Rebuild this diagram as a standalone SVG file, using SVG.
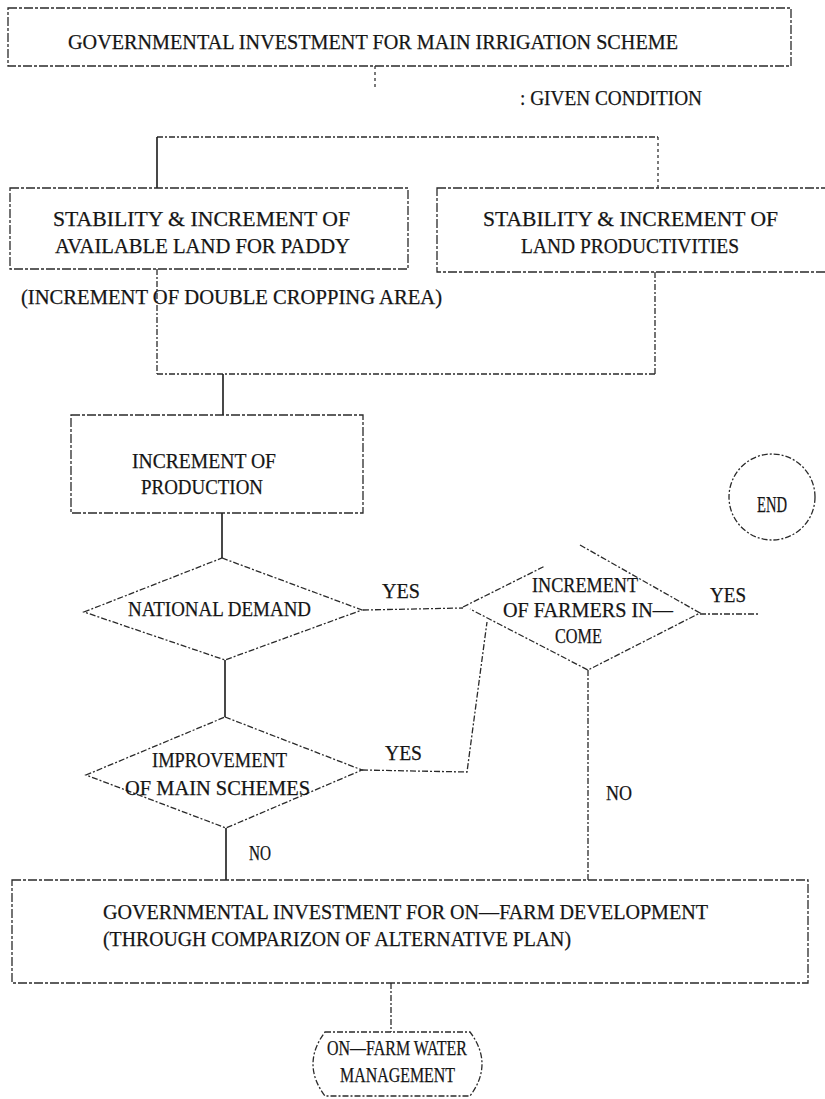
<svg xmlns="http://www.w3.org/2000/svg" width="825" height="1099" viewBox="0 0 825 1099">
<style>
  text { font-family: "Liberation Serif", "Times New Roman", serif; font-size: 22px; fill: #151515; stroke: #151515; stroke-width: 0.25; }
  .box { fill: none; stroke: #2a2a2a; stroke-width: 1.3; stroke-dasharray: 9 2 3 2; }
  .solid { fill: none; stroke: #1a1a1a; stroke-width: 1.6; }
  .dash { fill: none; stroke: #2a2a2a; stroke-width: 1.3; stroke-dasharray: 6 2 2 2; }
  .dot { fill: none; stroke: #333; stroke-width: 1.3; stroke-dasharray: 3 3; }
</style>
<rect width="825" height="1099" fill="#ffffff"/>

<g id="connectors">
  <path class="dot" d="M375,66 L375,90"/>
  <path class="dash" d="M157,137 L658,137"/>
  <path class="solid" d="M157,137 L157,188"/>
  <path class="dot" d="M658,137 L658,188"/>
  <path class="dash" d="M157,269 L157,374"/>
  <path class="dash" d="M655,272 L655,374"/>
  <path class="dash" d="M157,374 L655,374"/>
  <path class="solid" d="M223,374 L223,415"/>
  <path class="solid" d="M222,513 L222,558"/>
  <path class="dash" d="M363,610 L463,608"/>
  <path class="solid" d="M225,660 L225,717"/>
  <path class="dash" d="M362,770 L467,772 L487,622"/>
  <path class="dash" d="M700,614 L758,614"/>
  <path class="dash" d="M588,670 L588,880"/>
  <path class="solid" d="M226,828 L226,880"/>
  <path class="dash" d="M391,983 L391,1032"/>
</g>

<g id="node-top">
  <rect class="box" x="8" y="8" width="783" height="58"/>
  <text x="68" y="49" textLength="610" lengthAdjust="spacingAndGlyphs">GOVERNMENTAL INVESTMENT FOR MAIN IRRIGATION SCHEME</text>
</g>

<g id="note-given">
  <text x="520" y="105" textLength="182" lengthAdjust="spacingAndGlyphs">:  GIVEN CONDITION</text>
</g>

<g id="node-land">
  <rect class="box" x="10" y="188" width="398" height="81"/>
  <text x="53" y="226" textLength="297" lengthAdjust="spacingAndGlyphs">STABILITY &amp; INCREMENT OF</text>
  <text x="55" y="253" textLength="295" lengthAdjust="spacingAndGlyphs">AVAILABLE LAND FOR PADDY</text>
</g>

<g id="node-productivity">
  <rect class="box" x="437" y="188" width="400" height="84"/>
  <text x="483" y="226" textLength="295" lengthAdjust="spacingAndGlyphs">STABILITY &amp; INCREMENT OF</text>
  <text x="521" y="253" textLength="218" lengthAdjust="spacingAndGlyphs">LAND PRODUCTIVITIES</text>
</g>

<g id="note-double">
  <text x="21" y="304" textLength="421" lengthAdjust="spacingAndGlyphs">(INCREMENT OF DOUBLE CROPPING AREA)</text>
</g>

<g id="node-production">
  <rect class="box" x="71" y="415" width="292" height="98"/>
  <text x="132" y="468" textLength="144" lengthAdjust="spacingAndGlyphs">INCREMENT OF</text>
  <text x="141" y="494" textLength="122" lengthAdjust="spacingAndGlyphs">PRODUCTION</text>
</g>

<g id="node-national">
  <path class="dash" d="M222,558 L362,610 L225,660 L84,612 Z"/>
  <text x="128" y="616" textLength="183" lengthAdjust="spacingAndGlyphs">NATIONAL DEMAND</text>
  <text x="382" y="598" textLength="38" lengthAdjust="spacingAndGlyphs">YES</text>
</g>

<g id="node-farmers">
  <path class="dash" d="M463,607 L545,566"/>
  <path class="dash" d="M580,545 L700,613 L588,670 L470,609"/>
  <text x="532" y="592" textLength="106" lengthAdjust="spacingAndGlyphs">INCREMENT</text>
  <text x="503" y="617" textLength="170" lengthAdjust="spacingAndGlyphs">OF FARMERS IN—</text>
  <text x="555" y="643" textLength="47" lengthAdjust="spacingAndGlyphs">COME</text>
  <text x="710" y="602" textLength="36" lengthAdjust="spacingAndGlyphs">YES</text>
  <text x="606" y="800" textLength="26" lengthAdjust="spacingAndGlyphs">NO</text>
</g>

<g id="node-end">
  <ellipse class="dash" cx="772" cy="497" rx="43" ry="43"/>
  <text x="757" y="512" textLength="30" lengthAdjust="spacingAndGlyphs" style="font-size:24px">END</text>
</g>

<g id="node-improvement">
  <path class="dash" d="M225,717 L362,770 L226,828 L86,775 Z"/>
  <text x="152" y="767" textLength="135" lengthAdjust="spacingAndGlyphs">IMPROVEMENT</text>
  <text x="125" y="795" textLength="185" lengthAdjust="spacingAndGlyphs">OF MAIN SCHEMES</text>
  <text x="385" y="760" textLength="37" lengthAdjust="spacingAndGlyphs">YES</text>
  <text x="249" y="860" textLength="22" lengthAdjust="spacingAndGlyphs">NO</text>
</g>

<g id="node-onfarm-dev">
  <rect class="box" x="12" y="880" width="796" height="103"/>
  <text x="103" y="919" textLength="605" lengthAdjust="spacingAndGlyphs">GOVERNMENTAL INVESTMENT FOR ON—FARM DEVELOPMENT</text>
  <text x="103" y="946" textLength="468" lengthAdjust="spacingAndGlyphs">(THROUGH COMPARIZON OF ALTERNATIVE PLAN)</text>
</g>

<g id="node-water">
  <path class="dash" d="M325,1032 L470,1032 Q494,1064 470,1096 L325,1096 Q301,1064 325,1032 Z"/>
  <text x="327" y="1055" textLength="140" lengthAdjust="spacingAndGlyphs">ON—FARM WATER</text>
  <text x="340" y="1082" textLength="115" lengthAdjust="spacingAndGlyphs">MANAGEMENT</text>
</g>
</svg>
